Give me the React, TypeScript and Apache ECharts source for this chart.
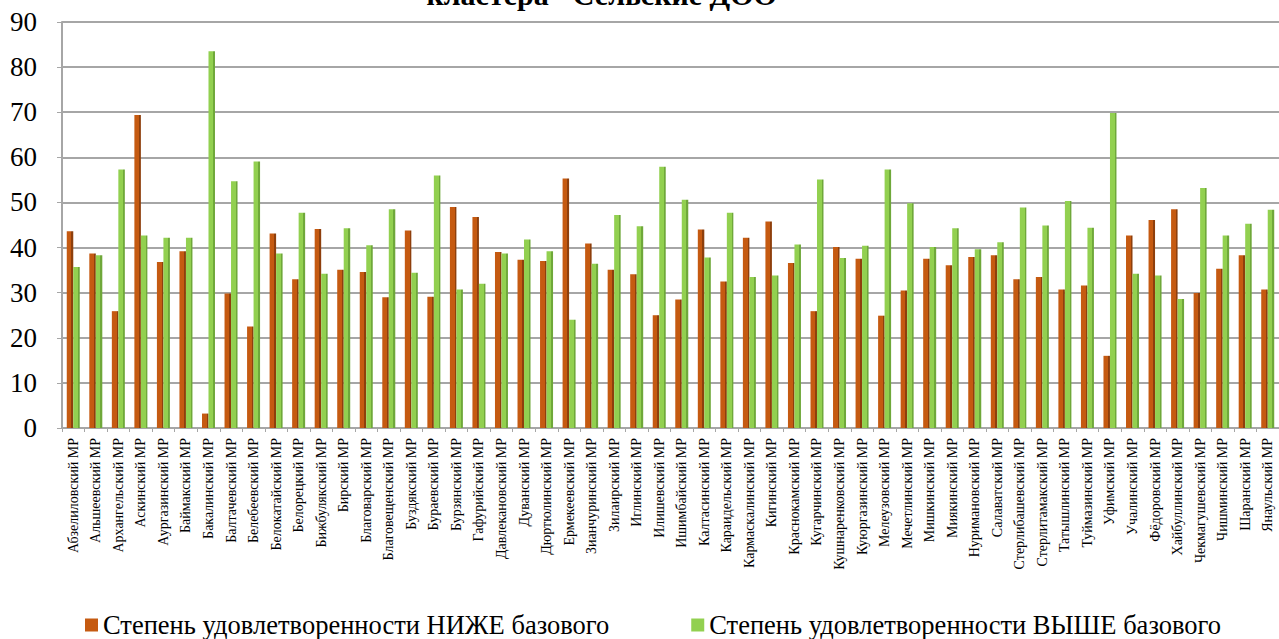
import React, { useEffect, useRef } from "react";
import * as echarts from "echarts";

const categories: string[] = [
  "Абзелиловский МР", "Альшеевский МР", "Архангельский МР", "Аскинский МР", "Аургазинский МР",
  "Баймакский МР", "Бакалинский МР", "Балтачевский МР", "Белебеевский МР", "Белокатайский МР",
  "Белорецкий МР", "Бижбулякский МР", "Бирский МР", "Благоварский МР", "Благовещенский МР",
  "Буздякский МР", "Бураевский МР", "Бурзянский МР", "Гафурийский МР", "Давлекановский МР",
  "Дуванский МР", "Дюртюлинский МР", "Ермекеевский МР", "Зианчуринский МР", "Зилаирский МР",
  "Иглинский МР", "Илишевский МР", "Ишимбайский МР", "Калтасинский МР", "Караидельский МР",
  "Кармаскалинский МР", "Кигинский МР", "Краснокамский МР", "Кугарчинский МР", "Кушнаренковский МР",
  "Куюргазинский МР", "Мелеузовский МР", "Мечетлинский МР", "Мишкинский МР", "Миякинский МР",
  "Нуримановский МР", "Салаватский МР", "Стерлибашевский МР", "Стерлитамакский МР", "Татышлинский МР",
  "Туймазинский МР", "Уфимский МР", "Учалинский МР", "Фёдоровский МР", "Хайбуллинский МР",
  "Чекмагушевский МР", "Чишминский МР", "Шаранский МР", "Янаульский МР",
];

const belowBase: number[] = [
  43.6, 38.7, 25.9, 69.4, 36.8, 39.2, 3.2, 29.8, 22.5, 43.1,
  33.0, 44.1, 35.1, 34.6, 29.0, 43.8, 29.1, 49.0, 46.8, 39.0,
  37.3, 37.0, 55.3, 40.9, 35.1, 34.1, 25.0, 28.5, 44.0, 32.5,
  42.2, 45.8, 36.6, 25.9, 40.1, 37.5, 24.9, 30.5, 37.5, 36.1,
  37.9, 38.3, 33.0, 33.5, 30.7, 31.6, 16.0, 42.7, 46.1, 48.5,
  29.9, 35.3, 38.3, 30.7,
];

const aboveBase: number[] = [
  35.7, 38.3, 57.3, 42.7, 42.2, 42.2, 83.5, 54.7, 59.1, 38.7,
  47.7, 34.2, 44.3, 40.5, 48.5, 34.4, 56.0, 30.7, 32.0, 38.7,
  41.8, 39.2, 24.0, 36.4, 47.2, 44.7, 57.9, 50.6, 37.8, 47.7,
  33.5, 33.8, 40.7, 55.1, 37.7, 40.4, 57.3, 49.8, 40.1, 44.3,
  39.6, 41.2, 48.9, 44.9, 50.3, 44.4, 69.8, 34.2, 33.8, 28.6,
  53.2, 42.7, 45.3, 48.4,
];

const yTicks = { min: 0, max: 90, interval: 10 };
const seriesNames = [
  "Степень удовлетворенности НИЖЕ базового",
  "Степень удовлетворенности ВЫШЕ базового",
];
const titleText = "кластера \"Сельские ДОО\"";

const SERIF = "'Liberation Serif', 'Times New Roman', serif";
const ORANGE = "#C55A11";
const ORANGE_DARK = "#8E3F0C";
const GREEN = "#92D050";
const GREEN_DARK = "#6FA83A";

function barGradient(main: string, dark: string) {
  return new echarts.graphic.LinearGradient(0, 0, 1, 0, [
    { offset: 0, color: main },
    { offset: 0.72, color: main },
    { offset: 0.72, color: dark },
    { offset: 1, color: dark },
  ]);
}

export default function App() {
  const ref = useRef<HTMLDivElement>(null);

  useEffect(() => {
    document.body.style.margin = "0";
    if (!ref.current) return;
    const chart = echarts.init(ref.current, null, { renderer: "svg" });
    chart.setOption({
      animation: false,
      backgroundColor: "#ffffff",
      graphic: [
        {
          type: "text",
          x: 610,
          y: 9,
          style: {
            text: titleText,
            font: `bold 30px ${SERIF}`,
            fill: "#000",
            textAlign: "center",
            textVerticalAlign: "bottom",
          },
        },
      ],
      legend: {
        left: 80,
        top: 606,
        itemGap: 82,
        itemWidth: 13,
        itemHeight: 13,
        icon: "rect",
        textStyle: { fontFamily: SERIF, fontSize: 26.5, lineHeight: 28, color: "#000" },
        data: [
          { name: seriesNames[0], itemStyle: { color: ORANGE } },
          { name: seriesNames[1], itemStyle: { color: GREEN } },
        ],
      },
      grid: { left: 62, top: 22, width: 1224, height: 406, containLabel: false },
      xAxis: {
        type: "category",
        data: categories,
        axisLine: { show: true, lineStyle: { color: "#A6A6A6", width: 2 } },
        axisTick: { show: true, interval: 0, length: 4, lineStyle: { color: "#A6A6A6" } },
        axisLabel: {
          interval: 0,
          rotate: 90,
          fontFamily: SERIF,
          fontSize: 14,
          color: "#000",
          margin: 10,
        },
      },
      yAxis: {
        type: "value",
        min: yTicks.min,
        max: yTicks.max,
        interval: yTicks.interval,
        axisLine: { show: true, lineStyle: { color: "#A6A6A6", width: 2 } },
        axisTick: { show: true, length: 5, lineStyle: { color: "#A6A6A6" } },
        splitLine: { show: true, lineStyle: { color: "#A6A6A6", width: 2 } },
        axisLabel: { fontFamily: SERIF, fontSize: 27, color: "#000", margin: 25 },
      },
      series: [
        {
          name: seriesNames[0],
          type: "bar",
          data: belowBase,
          barWidth: 6.5,
          barGap: "0%",
          itemStyle: { color: barGradient(ORANGE, ORANGE_DARK) },
        },
        {
          name: seriesNames[1],
          type: "bar",
          data: aboveBase,
          barWidth: 6.5,
          barGap: "0%",
          itemStyle: { color: barGradient(GREEN, GREEN_DARK) },
        },
      ],
    });
    return () => chart.dispose();
  }, []);

  return (
    <div
      ref={ref}
      style={{ position: "absolute", left: 0, top: 0, width: 1279, height: 639 }}
    />
  );
}
